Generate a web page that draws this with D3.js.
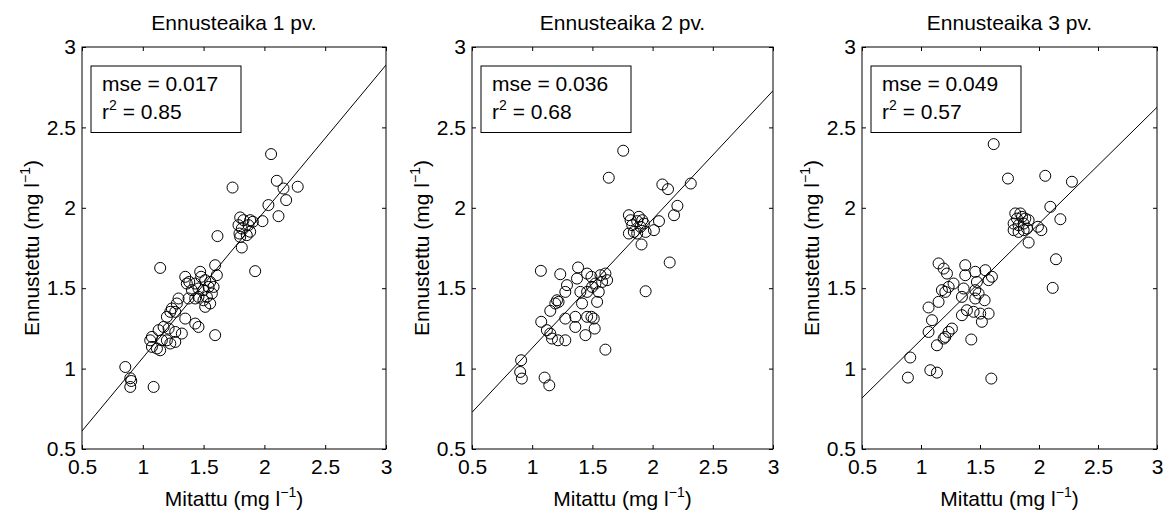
<!DOCTYPE html>
<html><head><meta charset="utf-8">
<script src="https://cdn.jsdelivr.net/npm/d3@7"></script>
<style>
html,body{margin:0;padding:0;background:#fff;}
text{font-family:"Liberation Sans",Arial,Helvetica,sans-serif;fill:#000;}
</style></head>
<body>
<svg id="chart" width="1169" height="513"></svg>
<script>
// ---------- data ----------
const titles = ["Ennusteaika 1 pv.", "Ennusteaika 2 pv.", "Ennusteaika 3 pv."];
const xLabel = "Mitattu (mg l";
const yLabel = "Ennustettu (mg l";
const tickValues = [0.5, 1, 1.5, 2, 2.5, 3];
const tickLabels = ["0.5", "1", "1.5", "2", "2.5", "3"];
const mseValues = ["0.017", "0.036", "0.049"];
const r2Values = ["0.85", "0.68", "0.57"];
// regression line: value at x=0.5 and at x=3
const fitAtStart = [0.612, 0.728, 0.817];
const fitAtEnd = [2.888, 2.728, 2.625];

const p1X = [1.349,1.382,1.472,1.480,1.431,1.513,1.554,1.541,1.499,1.458,1.404,1.362,1.582,1.527,1.568,1.458,1.499,1.513,1.554,1.431,1.376,1.294,1.280,1.239,1.226,1.267,1.198,1.349,1.431,1.458,1.595,1.321,1.267,1.212,1.171,1.130,1.075,1.061,1.157,1.198,1.226,1.267,1.116,1.143,1.075,0.856,0.897,0.905,0.897,1.089,1.143,
  2.055,1.738,2.102,2.157,2.274,2.179,2.033,2.116,1.984,1.801,1.828,1.883,1.905,1.869,1.814,1.795,1.801,1.855,1.883,1.787,1.814,1.614,1.924,1.595,1.609];
const p1Y = [1.571,1.539,1.602,1.571,1.529,1.550,1.539,1.508,1.488,1.498,1.488,1.529,1.508,1.446,1.467,1.446,1.425,1.384,1.405,1.436,1.436,1.436,1.405,1.374,1.353,1.353,1.322,1.311,1.280,1.259,1.208,1.218,1.228,1.249,1.259,1.239,1.197,1.176,1.176,1.176,1.156,1.166,1.125,1.114,1.135,1.010,0.940,0.923,0.886,0.886,1.626,
  2.334,2.126,2.168,2.120,2.131,2.048,2.017,1.948,1.917,1.940,1.923,1.923,1.913,1.892,1.871,1.840,1.819,1.830,1.851,1.892,1.753,1.824,1.606,1.643,1.581];

const p2X = [1.072,1.233,1.381,1.372,1.456,1.492,1.567,1.608,1.622,1.581,1.525,1.497,1.289,1.275,1.400,1.456,1.553,1.206,1.192,1.219,1.150,1.414,1.539,1.275,1.358,1.456,1.492,1.511,1.075,1.358,1.519,1.442,1.122,1.150,1.164,1.214,1.275,1.608,0.908,0.900,0.914,1.103,1.142,
  1.756,1.636,2.081,2.128,2.317,2.206,2.178,2.053,1.803,1.817,1.872,1.914,1.928,1.900,1.844,1.803,1.872,1.942,2.011,1.831,1.886,1.908,2.142,1.942];
const p2Y = [1.608,1.587,1.629,1.560,1.591,1.571,1.581,1.591,1.550,1.539,1.529,1.508,1.519,1.477,1.477,1.477,1.477,1.425,1.405,1.415,1.359,1.405,1.415,1.311,1.322,1.322,1.322,1.311,1.291,1.259,1.249,1.208,1.239,1.218,1.187,1.176,1.176,1.118,1.052,0.979,0.938,0.944,0.896,
  2.355,2.187,2.145,2.116,2.151,2.012,1.954,1.917,1.954,1.923,1.917,1.923,1.902,1.882,1.850,1.840,1.840,1.850,1.861,1.892,1.944,1.772,1.660,1.481];

const p3X = [1.149,1.192,1.220,1.375,1.375,1.460,1.545,1.601,1.573,1.474,1.276,1.234,1.177,1.206,1.361,1.460,1.488,1.347,1.460,1.539,1.149,1.064,1.389,1.446,1.502,1.573,1.347,1.516,1.093,1.064,1.262,1.234,1.206,1.192,1.135,1.426,0.909,0.889,1.079,1.135,1.596,
  1.616,1.737,2.053,2.279,2.096,2.181,1.799,1.842,1.884,1.813,1.785,1.827,1.870,1.912,1.785,1.827,1.870,1.898,1.856,1.991,2.020,1.912,2.144,2.116];
const p3Y = [1.654,1.622,1.591,1.643,1.581,1.602,1.612,1.571,1.550,1.539,1.529,1.508,1.488,1.477,1.498,1.488,1.467,1.446,1.436,1.425,1.415,1.380,1.363,1.353,1.342,1.342,1.332,1.291,1.301,1.228,1.249,1.228,1.197,1.187,1.145,1.181,1.069,0.944,0.990,0.975,0.938,
  2.396,2.182,2.199,2.162,2.006,1.929,1.965,1.965,1.933,1.933,1.902,1.892,1.902,1.923,1.861,1.850,1.861,1.871,1.944,1.882,1.861,1.784,1.680,1.502];

const seriesX = [p1X, p2X, p3X];
const seriesY = [p1Y, p2Y, p3Y];

// ---------- layout ----------
const panels = [
  {left: 82, right: 386},
  {left: 472, right: 773},
  {left: 862, right: 1157}
];
const plotTop = 47, plotBottom = 449;
const svg = d3.select("#chart");
const FS = 21;

panels.forEach((p, i) => {
  const x = d3.scaleLinear().domain([0.5, 3]).range([p.left, p.right]);
  const y = d3.scaleLinear().domain([0.5, 3]).range([plotBottom, plotTop]);
  const g = svg.append("g");

  const cid = "clip" + i;
  svg.append("clipPath").attr("id", cid).append("rect")
    .attr("x", p.left).attr("y", plotTop).attr("width", p.right - p.left).attr("height", plotBottom - plotTop);

  // regression line
  g.append("line")
    .attr("clip-path", `url(#${cid})`)
    .attr("x1", x(0.5)).attr("y1", y(fitAtStart[i]))
    .attr("x2", x(3)).attr("y2", y(fitAtEnd[i]))
    .attr("stroke", "#000").attr("stroke-width", 1);

  // points
  g.append("g").selectAll("circle")
    .data(d3.range(seriesX[i].length))
    .join("circle")
    .attr("cx", k => x(seriesX[i][k]))
    .attr("cy", k => y(seriesY[i][k]))
    .attr("r", 5.5)
    .attr("fill", "none")
    .attr("stroke", "#000")
    .attr("stroke-width", 1);

  const ax = (axis, tx, ty) => {
    const a = g.append("g").attr("transform", `translate(${tx},${ty})`).call(axis);
    a.select(".domain").remove();
    a.selectAll("line").attr("stroke", "#000").attr("stroke-width", 1);
    return a;
  };
  const bx = ax(d3.axisBottom(x).tickValues(tickValues).tickFormat((d, k) => tickLabels[k]).tickSizeInner(-4).tickPadding(10), 0, plotBottom);
  bx.selectAll("text").attr("font-size", FS).attr("font-family", "Liberation Sans, Arial, sans-serif").attr("fill", "#000");
  ax(d3.axisTop(x).tickValues(tickValues).tickFormat("").tickSizeInner(-4), 0, plotTop);
  const ly = ax(d3.axisLeft(y).tickValues(tickValues).tickFormat((d, k) => tickLabels[k]).tickSizeInner(-4).tickPadding(6), p.left, 0);
  ly.selectAll("text").attr("font-size", FS).attr("font-family", "Liberation Sans, Arial, sans-serif").attr("fill", "#000");
  ax(d3.axisRight(y).tickValues(tickValues).tickFormat("").tickSizeInner(-4), p.right, 0);

  // frame
  g.append("rect").attr("x", p.left).attr("y", plotTop)
    .attr("width", p.right - p.left).attr("height", plotBottom - plotTop)
    .attr("fill", "none").attr("stroke", "#000").attr("stroke-width", 1);

  // title
  g.append("text").attr("x", (p.left + p.right) / 2).attr("y", 30)
    .attr("text-anchor", "middle").attr("font-size", FS).text(titles[i]);

  // x label
  const xl = g.append("text").attr("x", (p.left + p.right) / 2).attr("y", 506)
    .attr("text-anchor", "middle").attr("font-size", FS);
  xl.append("tspan").text(xLabel);
  xl.append("tspan").attr("dy", -9).attr("font-size", 14).text("\u22121");
  xl.append("tspan").attr("dy", 9).text(")");

  // y label
  const yl = g.append("text")
    .attr("transform", `translate(${p.left - 43},${(plotTop + plotBottom) / 2}) rotate(-90)`)
    .attr("text-anchor", "middle").attr("font-size", FS);
  yl.append("tspan").text(yLabel);
  yl.append("tspan").attr("dy", -9).attr("font-size", 14).text("\u22121");
  yl.append("tspan").attr("dy", 9).text(")");

  // stats box
  g.append("rect").attr("x", p.left + 9).attr("y", plotTop + 19)
    .attr("width", 150).attr("height", 66.5)
    .attr("fill", "#fff").attr("stroke", "#000").attr("stroke-width", 1);
  g.append("text").attr("x", p.left + 20).attr("y", plotTop + 43.5)
    .attr("font-size", FS).text("mse = " + mseValues[i]);
  const rt = g.append("text").attr("x", p.left + 20).attr("y", plotTop + 72).attr("font-size", FS);
  rt.append("tspan").text("r");
  rt.append("tspan").attr("dy", -9).attr("font-size", 14).text("2");
  rt.append("tspan").attr("dy", 9).text(" = " + r2Values[i]);
});
</script>
</body></html>
